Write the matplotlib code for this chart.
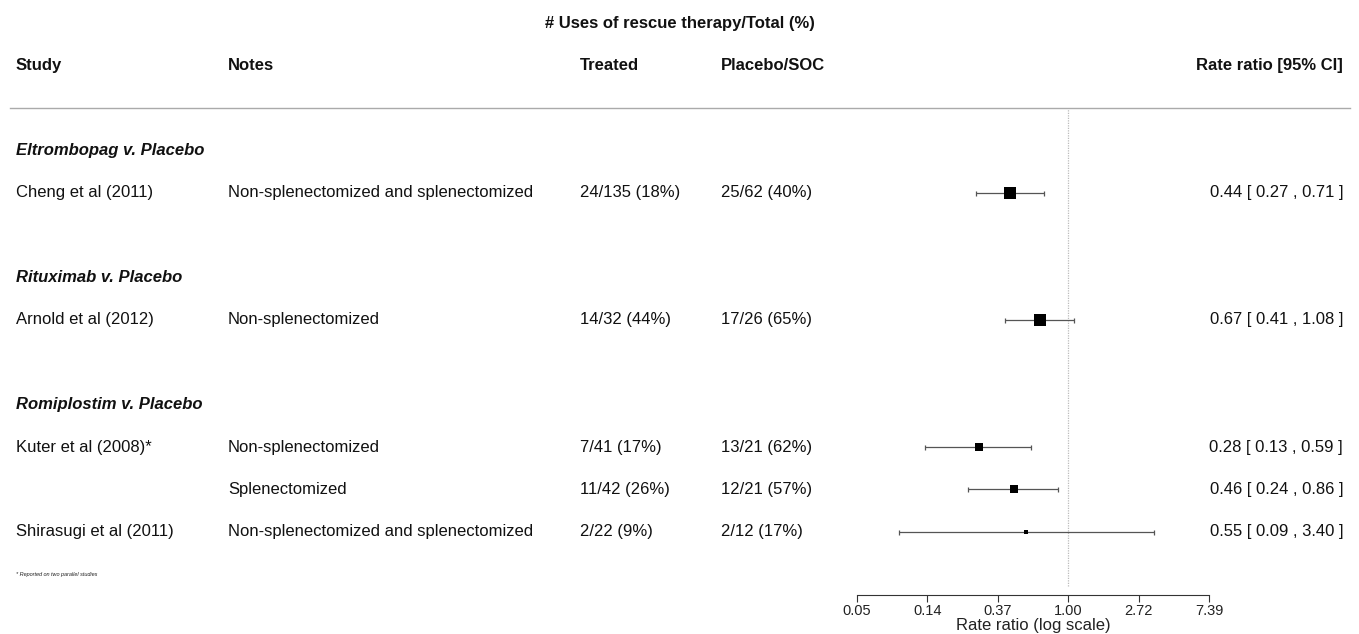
import numpy as np
import matplotlib
matplotlib.use("Agg")
import matplotlib.pyplot as plt
import matplotlib.transforms as mtransforms
from matplotlib.lines import Line2D

plt.rcParams['font.family'] = ['Liberation Sans', 'DejaVu Sans']

# study rows
studies = ["Cheng et al (2011)", "Arnold et al (2012)", "Kuter et al (2008)*", "", "Shirasugi et al (2011)"]
notes = ["Non-splenectomized and splenectomized", "Non-splenectomized", "Non-splenectomized",
         "Splenectomized", "Non-splenectomized and splenectomized"]
treated = ["24/135 (18%)", "14/32 (44%)", "7/41 (17%)", "11/42 (26%)", "2/22 (9%)"]
placebo = ["25/62 (40%)", "17/26 (65%)", "13/21 (62%)", "12/21 (57%)", "2/12 (17%)"]
rr = [0.44, 0.67, 0.28, 0.46, 0.55]
ci_lo = [0.27, 0.41, 0.13, 0.24, 0.09]
ci_hi = [0.71, 1.08, 0.59, 0.86, 3.40]
rows = [9, 6, 3, 2, 1]

groups = ["Eltrombopag v. Placebo", "Rituximab v. Placebo", "Romiplostim v. Placebo"]
group_rows = [10, 7, 4]

ticks = np.exp(np.arange(-3, 3))

W, H, DPI = 1359, 634, 100
fig = plt.figure(figsize=(W / DPI, H / DPI), dpi=DPI)

# forest panel: log x axis spanning exp(-3)..exp(2)
x0, x1 = 857, 1209
ax = fig.add_axes([x0 / W, 0, (x1 - x0) / W, 1])
ax.set_xscale('log')
ax.set_xlim(ticks[0], ticks[-1])
ax.set_ylim(-1.41, 13.55)
ax.patch.set_alpha(0)

for s in ['top', 'right', 'left']:
    ax.spines[s].set_visible(False)
ax.spines['bottom'].set_position(('data', -0.5))
ax.spines['bottom'].set_linewidth(0.8)
ax.spines['bottom'].set_color('#333333')
ax.set_yticks([])
ax.set_xticks(ticks)
ax.set_xticklabels([f"{t:.2f}" for t in ticks])
ax.xaxis.set_minor_locator(matplotlib.ticker.NullLocator())
ax.tick_params(axis='x', length=5, width=0.8, color='#333333', labelsize=10.5, pad=1.5,
               labelcolor='#222222')
ax.set_xlabel("Rate ratio (log scale)", fontsize=12, labelpad=0, color='#222222')

# reference line at 1
ax.plot([1, 1], [-0.27, 11.0], ls=(0, (1, 1)), color='#bbbbbb', lw=0.9)

# point sizes from precision (1/se), as metafor scales them
lo_l, hi_l = np.log(ci_lo), np.log(ci_hi)
inv_se = 1 / ((hi_l - lo_l) / (2 * 1.96))
norm = (inv_se - inv_se.min()) / (inv_se.max() - inv_se.min())
side_px = 7.6 * (0.5 + norm)
side_pt = side_px * 72 / DPI

for r, est, lo, hi, sp in zip(rows, rr, ci_lo, ci_hi, side_pt):
    ax.errorbar([est], [r], xerr=[[est - lo], [hi - est]], fmt='none', ecolor='#555555',
                elinewidth=0.9, capsize=1.8, capthick=0.9)
    ax.plot([est], [r], marker='s', ms=sp, color='black', mew=0, ls='none')

# text columns in figure-x / data-y coordinates
tr = mtransforms.blended_transform_factory(fig.transFigure, ax.transData)
col_study, col_notes, col_trt, col_pbo, col_rr = 16 / W, 228 / W, 580 / W, 721 / W, 1343 / W
txt = dict(transform=tr, va='center', fontsize=12, color='#111111', clip_on=False)

ax.text(680 / W, 13, "# Uses of rescue therapy/Total (%)", ha='center', weight='bold', **txt)
ax.text(col_study, 12, "Study", ha='left', weight='bold', **txt)
ax.text(col_notes, 12, "Notes", ha='left', weight='bold', **txt)
ax.text(col_trt, 12, "Treated", ha='left', weight='bold', **txt)
ax.text(col_pbo, 12, "Placebo/SOC", ha='left', weight='bold', **txt)
ax.text(col_rr, 12, "Rate ratio [95% CI]", ha='right', weight='bold', **txt)

ax.add_line(Line2D([10 / W, 1350 / W], [11.0, 11.0], transform=tr, color='#aaaaaa',
                   lw=1.0, clip_on=False))

for g, r in zip(groups, group_rows):
    ax.text(col_study, r, g, ha='left', weight='bold', style='italic', **txt)

for r, st, nt, t, p, est, lo, hi in zip(rows, studies, notes, treated, placebo, rr, ci_lo, ci_hi):
    ax.text(col_study, r, st, ha='left', **txt)
    ax.text(col_notes, r, nt, ha='left', **txt)
    ax.text(col_trt, r, t, ha='left', **txt)
    ax.text(col_pbo, r, p, ha='left', **txt)
    ax.text(col_rr, r, f"{est:.2f} [ {lo:.2f} , {hi:.2f} ]", ha='right', **txt)

ax.text(col_study, 0, "* Reported on two parallel studies", ha='left', transform=tr,
        va='center', fontsize=4, style='italic', color='#222222', clip_on=False)

fig.savefig("out.png", dpi=DPI)
